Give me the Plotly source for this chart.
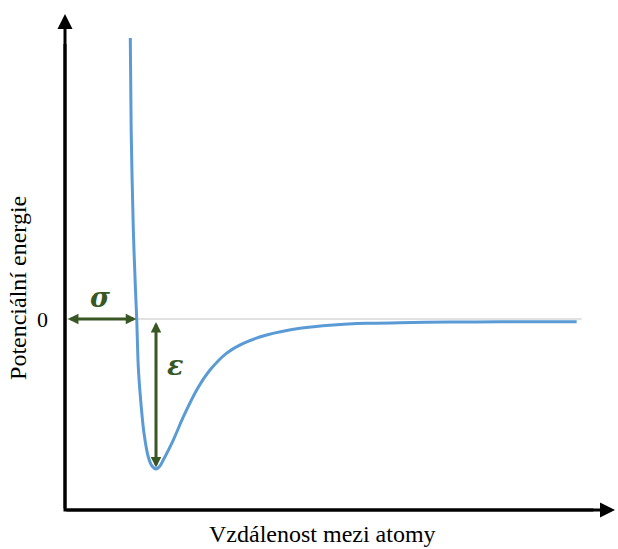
import plotly.graph_objects as go

# Interatomic distance (in units of sigma) and potential energy (in units of epsilon)
distance = [0.907, 0.919, 0.949, 0.979, 0.996, 1.018, 1.051, 1.097, 1.157, 1.208,
            1.264, 1.319, 1.365, 1.504, 1.643, 1.829, 2.014, 2.246, 2.476, 2.801,
            3.264, 3.726, 4.190, 4.653, 5.347, 6.042, 7.107]
energy = [1.873, 1.260, 0.593, 0.193, 0.003, -0.320, -0.540, -0.760, -0.920, -0.980,
          -1.000, -0.980, -0.940, -0.807, -0.653, -0.473, -0.340, -0.227, -0.162, -0.107,
          -0.062, -0.040, -0.029, -0.025, -0.020, -0.019, -0.018]

sigma = 1.0          # zero crossing
r_min = 1.264        # position of the well minimum
epsilon = 1.0        # well depth

x_title = "Vzdálenost mezi atomy"
y_title = "Potenciální energie"
zero_label = "0"

# axis geometry (data units)
x_range = [-0.9028, 7.6806]
y_range = [-1.5333, 2.1267]
axis_y = -1.273
y_axis_top = 2.033
x_axis_end = 7.639
zero_line_end = 7.176

BLUE = "#5b9bd5"
GREEN = "#385723"
SERIF = "Liberation Serif, Times New Roman, serif"

fig = go.Figure()

fig.add_trace(go.Scatter(
    x=distance, y=energy, mode="lines",
    line=dict(color=BLUE, width=3, shape="spline", smoothing=0.8),
    hoverinfo="skip", showlegend=False,
))

shapes = [
    # zero energy reference line
    dict(type="line", xref="x", yref="y", x0=0, x1=zero_line_end, y0=0, y1=0,
         line=dict(color="#d9d9d9", width=1.5), layer="below"),
    # axes corner
    dict(type="path", xref="x", yref="y",
         path=f"M 0,{y_axis_top - 0.2} L 0,{axis_y} L {x_axis_end - 0.3},{axis_y}",
         line=dict(color="black", width=3)),
]

annotations = [
    # y axis arrow
    dict(x=0, y=y_axis_top, ax=0, ay=axis_y, xref="x", yref="y", axref="x", ayref="y",
         text="", showarrow=True, arrowhead=2, arrowsize=1, arrowwidth=3, arrowcolor="black"),
    # x axis arrow
    dict(x=x_axis_end, y=axis_y, ax=0, ay=axis_y, xref="x", yref="y", axref="x", ayref="y",
         text="", showarrow=True, arrowhead=2, arrowsize=1, arrowwidth=3, arrowcolor="black"),
    # sigma arrow
    dict(x=sigma - 0.01, y=0, ax=0.02, ay=0, xref="x", yref="y", axref="x", ayref="y",
         text="", showarrow=True, arrowhead=2, arrowside="end+start", arrowsize=0.7,
         arrowwidth=3, arrowcolor=GREEN),
    # epsilon arrow
    dict(x=r_min, y=-epsilon + 0.01, ax=r_min, ay=-0.01, xref="x", yref="y", axref="x", ayref="y",
         text="", showarrow=True, arrowhead=2, arrowside="end+start", arrowsize=0.7,
         arrowwidth=3, arrowcolor=GREEN),
    dict(x=0.486, y=0.145, xref="x", yref="y", text="<b><i>σ</i></b>", showarrow=False,
         font=dict(family="DejaVu Serif, serif", size=27, color=GREEN)),
    dict(x=1.528, y=-0.31, xref="x", yref="y", text="<b><i>ε</i></b>", showarrow=False,
         font=dict(family="DejaVu Serif, serif", size=27, color=GREEN)),
    dict(x=-0.319, y=0, xref="x", yref="y", text=zero_label, showarrow=False,
         font=dict(family=SERIF, size=22, color="black")),
    dict(x=-0.653, y=0.207, xref="x", yref="y", text=y_title, showarrow=False, textangle=-90,
         font=dict(family=SERIF, size=24, color="black")),
    dict(x=3.583, y=-1.432, xref="x", yref="y", text=x_title, showarrow=False,
         font=dict(family=SERIF, size=24, color="black")),
]

fig.update_layout(
    width=618, height=549,
    margin=dict(l=0, r=0, t=0, b=0),
    paper_bgcolor="white", plot_bgcolor="white",
    xaxis=dict(range=x_range, visible=False, fixedrange=True),
    yaxis=dict(range=y_range, visible=False, fixedrange=True),
    shapes=shapes, annotations=annotations,
    showlegend=False,
)

fig.write_html("out.html")
